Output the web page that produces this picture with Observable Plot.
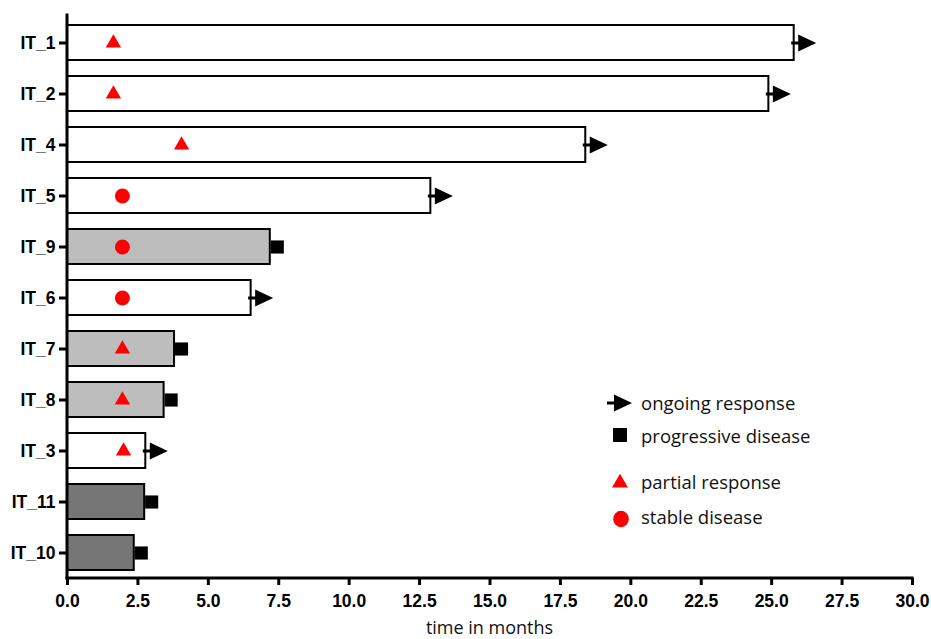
<!DOCTYPE html>
<html><head><meta charset="utf-8">
<script src="https://cdn.jsdelivr.net/npm/d3@7"></script>
<script src="https://cdn.jsdelivr.net/npm/@observablehq/plot@0.6"></script>
<style>
body{margin:0;background:#fff;}
#wrap{position:relative;width:931px;height:639px;overflow:hidden;background:#fff;}
#wrap svg.overlay{position:absolute;left:0;top:0;pointer-events:none;}
#wrap g[aria-label*="tick label"], #wrap g[aria-label*="tick label"] text{font-size:17.5px !important;font-weight:bold !important;font-family:'Liberation Sans',Arial,sans-serif !important;}
</style></head><body><div id="wrap"></div>
<script>
// ---- data ----
const patients = ["IT_1","IT_2","IT_4","IT_5","IT_9","IT_6","IT_7","IT_8","IT_3","IT_11","IT_10"];
const durations = [25.8, 24.9, 18.4, 12.9, 7.2, 6.52, 3.8, 3.43, 2.78, 2.74, 2.37];
const barGroups = ["open","open","open","open","light","open","light","light","open","dark","dark"];
const endEvents = ["ongoing","ongoing","ongoing","ongoing","progressive","ongoing","progressive","progressive","ongoing","progressive","progressive"];
const responseTypes = ["partial","partial","partial","stable","stable","stable","partial","partial","partial",null,null];
const responseTimes = [1.63, 1.63, 4.05, 1.95, 1.95, 1.95, 1.95, 1.95, 1.99, null, null];
const xTicks = [0, 2.5, 5, 7.5, 10, 12.5, 15, 17.5, 20, 22.5, 25, 27.5, 30];
const legendLabels = ["ongoing response", "progressive disease", "partial response", "stable disease"];
const xLabel = "time in months";

// ---- styling ----
const fillMap = {open: "#ffffff", light: "#bdbdbd", dark: "#767676"};
const W = 931, H = 639, mL = 67, mR = 19, mT = 16, mB = 61;

const rows = patients.map((p, i) => ({
  patient: p, duration: durations[i], group: barGroups[i],
  end: endEvents[i], resp: responseTypes[i], respTime: responseTimes[i]
}));

const arrowSymbol = {
  draw(ctx) {
    ctx.moveTo(-3, -1.5); ctx.lineTo(6, -1.5); ctx.lineTo(6, 1.5); ctx.lineTo(-3, 1.5); ctx.closePath();
    ctx.moveTo(4, -8.5); ctx.lineTo(22, 0); ctx.lineTo(4, 8.5); ctx.closePath();
  }
};

const axisLines = (index, scales, values, dims) => {
  const g = d3.create("svg:g").attr("stroke", "black").attr("stroke-width", 3)
    .attr("stroke-linecap", "square").attr("fill", "none");
  const yb = dims.height - dims.marginBottom;
  g.append("line").attr("x1", dims.marginLeft).attr("x2", dims.width - dims.marginRight)
    .attr("y1", yb).attr("y2", yb);
  g.append("line").attr("x1", dims.marginLeft).attr("x2", dims.marginLeft)
    .attr("y1", dims.marginTop - 1).attr("y2", yb);
  return g.node();
};

const chart = Plot.plot({
  width: W, height: H,
  marginLeft: mL, marginRight: mR, marginTop: mT, marginBottom: mB,
  style: {fontFamily: "'Liberation Sans', Arial, sans-serif", fontSize: "17px", fontWeight: "bold", background: "white", color: "black", overflow: "visible"},
  x: {domain: [0, 30]},
  y: {domain: patients, paddingInner: 0.32, paddingOuter: 0.16},
  color: {type: "identity"},
  marks: [
    Plot.barX(rows, {y: "patient", x1: 0, x2: "duration", fill: d => fillMap[d.group], stroke: "black", strokeWidth: 2}),
    Plot.dot(rows.filter(d => d.end === "progressive"), {x: "duration", y: "patient", symbol: "square", r: 7.4, fill: "black", stroke: "none", dx: 7}),
    Plot.dot(rows.filter(d => d.end === "ongoing"), {x: "duration", y: "patient", symbol: arrowSymbol, r: 5, fill: "black", stroke: "none"}),
    Plot.dot(rows.filter(d => d.resp === "partial"), {x: "respTime", y: "patient", symbol: "triangle", r: 5.7, fill: "#ff0000", stroke: "none"}),
    Plot.dot(rows.filter(d => d.resp === "stable"), {x: "respTime", y: "patient", symbol: "circle", r: 7.5, fill: "#ff0000", stroke: "none"}),
    Plot.axisX({ticks: xTicks, tickFormat: d => d.toFixed(1), tickSize: 7, strokeWidth: 3, tickPadding: 9, label: null}),
    Plot.axisY({tickSize: 8, strokeWidth: 3, tickPadding: 4, label: null}),
    axisLines
  ]
});

const wrap = document.getElementById("wrap");
wrap.appendChild(chart);

// ---- legend and axis title overlay ----
const ov = d3.select(wrap).append("svg").attr("class", "overlay")
  .attr("width", W).attr("height", H);
const lf = "'Open Sans', sans-serif";
const items = [
  {y: 402, draw: g => g.append("path").attr("d", d3.symbol(arrowSymbol)()).attr("transform", "translate(610,403)").attr("fill", "black")},
  {y: 435, draw: g => g.append("path").attr("d", d3.symbol(d3.symbolSquare, 196)()).attr("transform", "translate(620,435)").attr("fill", "black")},
  {y: 481, draw: g => g.append("path").attr("d", d3.symbol(d3.symbolTriangle, 110)()).attr("transform", "translate(620,483)").attr("fill", "#ff0000")},
  {y: 516, draw: g => g.append("ellipse").attr("cx", 621).attr("cy", 519).attr("rx", 7.8).attr("ry", 8.2).attr("fill", "#ff0000")}
];
items.forEach((it, i) => {
  it.draw(ov);
  ov.append("text").attr("x", 641).attr("y", it.y).attr("dominant-baseline", "central")
    .attr("font-family", lf).attr("font-size", 18.5).attr("fill", "#111").text(legendLabels[i]);
});
ov.append("text").attr("x", (mL + W - mR) / 2).attr("y", 634).attr("text-anchor", "middle")
  .attr("font-family", lf).attr("font-size", 18).attr("fill", "#111").text(xLabel);
</script>
</body></html>
